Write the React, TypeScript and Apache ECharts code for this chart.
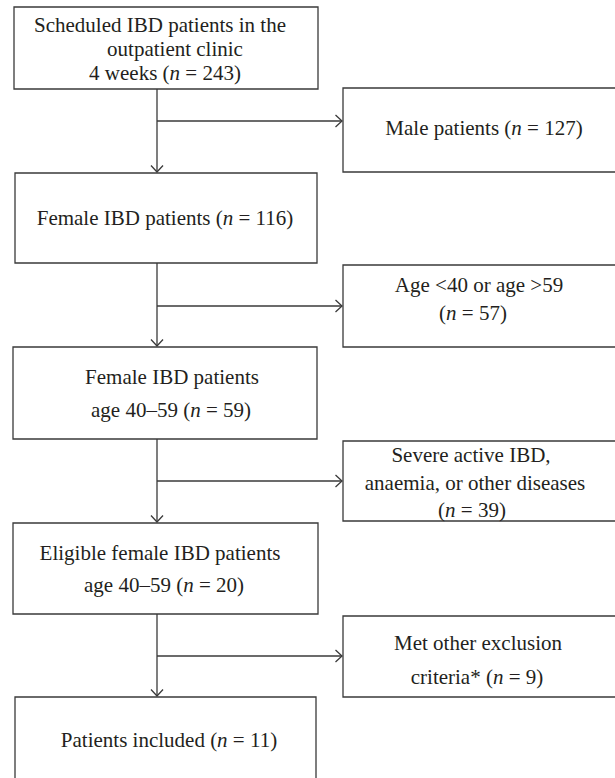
import React, { useEffect, useRef } from "react";
import * as echarts from "echarts";

// ---- data ----
const mainLabels: string[][] = [
  ["Scheduled IBD patients in the", "outpatient clinic", "4 weeks {COUNT}"],
  ["Female IBD patients {COUNT}"],
  ["Female IBD patients", "age 40–59 {COUNT}"],
  ["Eligible female IBD patients", "age 40–59 {COUNT}"],
  ["Patients included {COUNT}"],
];
const mainCounts: number[] = [243, 116, 59, 20, 11];

const exclusionLabels: string[][] = [
  ["Male patients {COUNT}"],
  ["Age <40 or age >59", "{COUNT}"],
  ["Severe active IBD,", "anaemia, or other diseases", "{COUNT}"],
  ["Met other exclusion", "criteria* {COUNT}"],
];
const exclusionCounts: number[] = [127, 57, 39, 9];

// ---- layout ----
const mainBoxes = [
  { x: 14, y: 7, w: 304, h: 82, cx: [160, 175, 165], cy: [25, 49, 73] },
  { x: 15, y: 173, w: 302, h: 90, cx: [165], cy: [218] },
  { x: 13, y: 347, w: 304, h: 92, cx: [172, 171], cy: [377, 410] },
  { x: 13, y: 523, w: 305, h: 91, cx: [160, 164], cy: [553, 585] },
  { x: 15, y: 697, w: 301, h: 110, cx: [169], cy: [740] },
];
const sideBoxes = [
  { y: 88, h: 84, cx: [484], cy: [128] },
  { y: 265, h: 82, cx: [479, 473], cy: [285, 313] },
  { y: 441, h: 80, cx: [471, 475, 472], cy: [455, 483, 510] },
  { y: 616, h: 81, cx: [478, 477], cy: [643, 677] },
];
const branchY = [121, 306, 481, 656];
const SIDE_X = 343;
const SPINE_X = 157;
const LINE = "#3a3a3a";
const TEXT = "#231f20";
const FS = 21;
const FONT = `${FS}px 'Liberation Serif', 'Times New Roman', serif`;
const FONT_I = `italic ${FS}px 'Liberation Serif', 'Times New Roman', serif`;

function fmt(line: string, count: number) {
  return line.replace("{COUNT}", `({n|n} = ${count})`);
}

function textEl(str: string, x: number, y: number) {
  return {
    type: "text",
    x,
    y,
    silent: true,
    style: {
      text: str,
      fill: TEXT,
      font: FONT,
      align: "center",
      verticalAlign: "middle",
      rich: {
        n: { font: FONT_I, fill: TEXT },
      },
    },
  };
}

function buildGraphics() {
  const els: any[] = [];
  const stroke = { stroke: LINE, lineWidth: 1.3, fill: "none" };
  mainBoxes.forEach((b, i) => {
    els.push({ type: "rect", shape: { x: b.x, y: b.y, width: b.w, height: b.h }, style: { ...stroke } });
    mainLabels[i].forEach((ln, j) => els.push(textEl(fmt(ln, mainCounts[i]), b.cx[j], b.cy[j])));
  });
  sideBoxes.forEach((b, i) => {
    els.push({ type: "rect", shape: { x: SIDE_X, y: b.y, width: 320, height: b.h }, style: { ...stroke } });
    exclusionLabels[i].forEach((ln, j) => els.push(textEl(fmt(ln, exclusionCounts[i]), b.cx[j], b.cy[j])));
  });
  for (let i = 0; i < mainBoxes.length - 1; i++) {
    const top = mainBoxes[i].y + mainBoxes[i].h;
    const tip = mainBoxes[i + 1].y - 1;
    els.push({ type: "line", shape: { x1: SPINE_X, y1: top, x2: SPINE_X, y2: tip }, style: { ...stroke } });
    els.push({
      type: "polyline",
      shape: { points: [[SPINE_X - 6, tip - 6.5], [SPINE_X, tip], [SPINE_X + 6, tip - 6.5]] },
      style: { ...stroke },
    });
    const by = branchY[i];
    const tipx = SIDE_X - 1;
    els.push({ type: "line", shape: { x1: SPINE_X, y1: by, x2: tipx, y2: by }, style: { ...stroke } });
    els.push({
      type: "polyline",
      shape: { points: [[tipx - 6.5, by - 6], [tipx, by], [tipx - 6.5, by + 6]] },
      style: { ...stroke },
    });
  }
  return els;
}

export default function App() {
  const ref = useRef<HTMLDivElement>(null);
  useEffect(() => {
    document.body.style.margin = "0";
    document.body.style.background = "#ffffff";
    const chart = echarts.init(ref.current!, undefined, { renderer: "svg" });
    chart.setOption({
      animation: false,
      backgroundColor: "#ffffff",
      graphic: { elements: buildGraphics() },
    });
    return () => chart.dispose();
  }, []);
  return <div ref={ref} style={{ width: 615, height: 778 }} />;
}
